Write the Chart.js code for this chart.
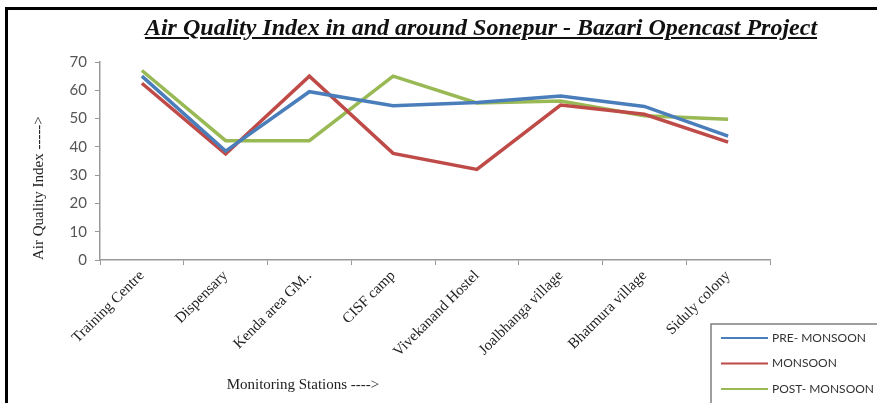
<!DOCTYPE html>
<html>
<head>
<meta charset="utf-8">
<script src="https://cdn.jsdelivr.net/npm/chart.js@4"></script>
<style>
  html, body { margin: 0; padding: 0; background: #fff; overflow: hidden; }
  #wrap { position: relative; width: 877px; height: 403px; }
  #frame { position: absolute; left: 5px; top: 7px; width: 900px; height: 420px; border: 3px solid #000; box-sizing: border-box; pointer-events: none; }
  #title { position: absolute; left: 0; width: 962px; top: 14px; text-align: center;
    font: italic bold 24px "Liberation Serif", serif; text-decoration: underline; color: #111; }
  canvas { position: absolute; left: 0; top: 0; }
</style>
</head>
<body>
<div id="wrap">
  <canvas id="aqi" width="877" height="403"></canvas>
  <div id="frame"></div>
  <div id="title">Air Quality Index in and around Sonepur - Bazari Opencast Project</div>
</div>
<script>
const stations = ['Training Centre', 'Dispensary', 'Kenda area GM..', 'CISF camp',
  'Vivekanand Hostel', 'Joalbhanga village', 'Bhatmura village', 'Siduly colony'];
const preMonsoon = [65, 38.5, 59.5, 54.5, 55.7, 58, 54.3, 43.8];
const monsoon = [62.5, 37.5, 65, 37.7, 32, 54.8, 51.5, 41.7];
const postMonsoon = [67, 42.2, 42.2, 65, 55.5, 56.2, 51, 49.8];
const seriesNames = ['PRE- MONSOON', 'MONSOON', 'POST- MONSOON'];
const yTicks = [0, 10, 20, 30, 40, 50, 60, 70];

const colors = ['#4A7EBB', '#BE4B48', '#98B954'];

// x title and legend box, drawn at fixed spots like the original
const extras = {
  id: 'extras',
  afterDraw(chart) {
    const ctx = chart.ctx;
    ctx.save();
    ctx.fillStyle = '#222';
    ctx.font = '15px "Liberation Serif", serif';
    ctx.textAlign = 'center';
    ctx.textBaseline = 'middle';
    ctx.fillText('Monitoring Stations ---->', 303, 385);

    ctx.fillStyle = '#fff';
    ctx.fillRect(711, 324, 200, 100);
    ctx.strokeStyle = '#7f7f7f';
    ctx.lineWidth = 1.5;
    ctx.strokeRect(711, 324, 200, 100);
    ctx.font = '12px Lato, sans-serif';
    ctx.textAlign = 'left';
    chart.data.datasets.forEach((ds, i) => {
      const y = 338 + i * 25.5;
      ctx.strokeStyle = ds.borderColor;
      ctx.lineWidth = 2;
      ctx.beginPath();
      ctx.moveTo(721, y);
      ctx.lineTo(768, y);
      ctx.stroke();
      ctx.fillStyle = '#333';
      ctx.fillText(ds.label, 772, y);
    });
    ctx.restore();
  }
};

new Chart(document.getElementById('aqi'), {
  type: 'line',
  data: {
    labels: stations,
    datasets: [preMonsoon, monsoon, postMonsoon].map((d, i) => ({
      label: seriesNames[i],
      data: d,
      borderColor: colors[i],
      backgroundColor: colors[i],
      borderWidth: 3.5,
      pointRadius: 0,
      tension: 0
    }))
  },
  options: {
    responsive: false,
    animation: false,
    layout: { padding: { top: 62, right: 107, left: 0, bottom: 0 } },
    plugins: { legend: { display: false }, tooltip: { enabled: false } },
    scales: {
      x: {
        offset: true,
        grid: { offset: true, drawOnChartArea: false, drawTicks: true, tickLength: 5, color: '#999' },
        border: { color: '#999', width: 1.5 },
        ticks: {
          minRotation: 45, maxRotation: 45, autoSkip: false, padding: 2,
          color: '#222', font: { family: '"Liberation Serif", serif', size: 15 }
        },
        afterFit(s) { s.height = 143; }
      },
      y: {
        min: 0, max: 70,
        afterBuildTicks(s) { s.ticks = yTicks.map(v => ({ value: v })); },
        grid: { drawOnChartArea: false, drawTicks: true, tickLength: 5, color: '#999' },
        border: { color: '#999', width: 1.5 },
        ticks: { padding: 8, color: '#555', font: { family: 'Lato, sans-serif', size: 15 } },
        title: {
          display: true, text: 'Air Quality Index ----->', color: '#222', align: 'start',
          font: { family: '"Liberation Serif", serif', size: 15 },
          padding: { top: 30, bottom: 0 }
        },
        afterFit(s) { s.width = 100; }
      }
    }
  },
  plugins: [extras]
});
</script>
</body>
</html>
